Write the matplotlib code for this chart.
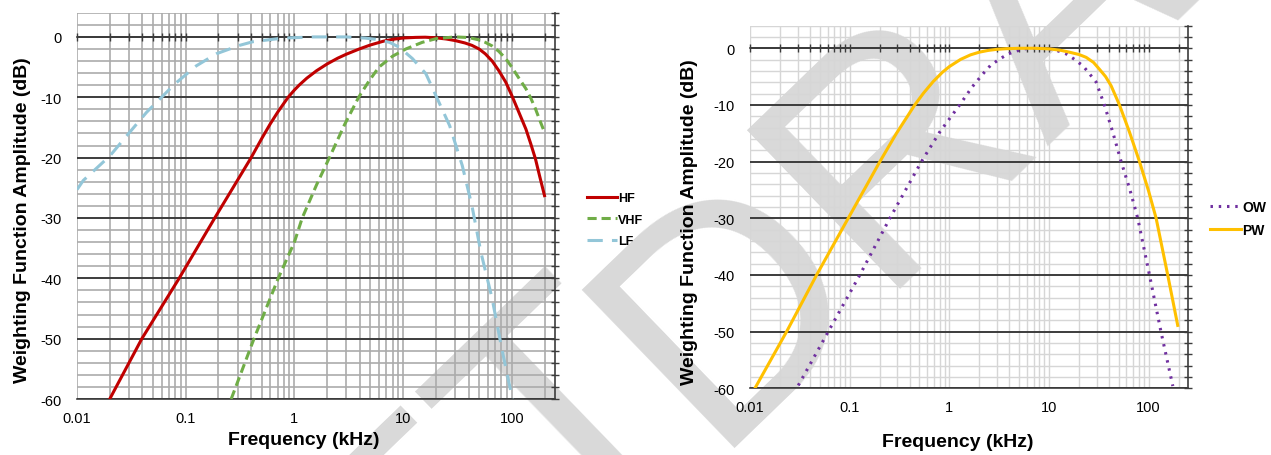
import matplotlib
matplotlib.use("Agg")
import matplotlib.pyplot as plt
from matplotlib.ticker import LogLocator, MultipleLocator, FuncFormatter, NullFormatter

plt.rcParams["font.family"] = ["Liberation Sans", "DejaVu Sans"]
plt.rcParams["axes.unicode_minus"] = False

# ---- data (frequency in kHz, amplitude in dB) ----
freq_hf = [0.0200, 0.0395, 0.087, 0.185, 0.4, 0.5, 0.6, 0.7, 0.8, 0.88, 1.0,
           1.11, 1.3, 1.6, 2.0, 2.5, 3.0, 3.95, 5.0, 6.5, 8.0, 10, 13, 16,
           20, 25, 30, 37, 43, 50, 57, 66, 76, 88, 100, 115, 135, 150, 165, 180, 200]
amp_hf = [-60, -50, -40, -30, -20, -16.85, -14.4, -12.5, -11.0, -9.95, -8.8,
          -7.96, -6.84, -5.6, -4.48, -3.53, -2.87, -2.0, -1.34, -0.74, -0.4, -0.18, -0.08, -0.05,
          -0.15, -0.35, -0.6, -1.0, -1.4, -2.0, -2.8, -4.0, -5.6, -7.5, -9.7, -12.3, -15.3,
          -17.8, -20.2, -23.0, -26.3]

freq_vhf = [0.262, 0.425, 0.71, 1.0, 1.18, 1.6, 2.1, 2.9, 3.9, 4.9, 6.0, 8.0,
            10.6, 15, 20, 30, 40, 50, 57, 66, 76, 88, 100, 115, 135, 150, 165, 180, 200]
amp_vhf = [-60, -50, -40, -34, -30, -24.5, -20, -14.5, -10, -7.2, -5, -3.2,
           -2.0, -0.9, -0.3, 0, -0.1, -0.5, -0.9, -1.5, -2.4, -3.6, -5.0, -6.7, -8.6,
           -10.2, -11.9, -13.7, -15.8]

freq_lf = [0.01, 0.0114, 0.0201, 0.0286, 0.0436, 0.0577, 0.0793, 0.125, 0.191,
           0.313, 0.414, 0.78, 1.5, 3.0, 4.5, 5.6, 7.5, 9.2, 12.2, 16.2, 20, 26.8, 35, 43,
           52, 66, 81, 100, 104]
amp_lf = [-25.3, -23.8, -19.7, -16.4, -12.5, -10.3, -7.8, -4.8, -2.8,
          -1.4, -0.8, -0.2, 0, 0, -0.2, -0.4, -0.9, -1.7, -3.6, -6.1, -9.7, -14.7, -21.3, -28,
          -35.7, -43.4, -51.7, -59.5, -61]

freq_ow = [0.0305, 0.061, 0.1265, 0.253, 0.525, 0.80, 1.27, 1.7, 2.18, 2.6, 3.2,
           3.9, 4.7, 5.5, 6.4, 8.0, 10.1, 12, 14.9, 17.5, 21.9, 25, 29.8, 36, 44, 53,
           65, 77.8, 102, 133, 175]
amp_ow = [-59.5, -50, -40, -30, -20, -14.8, -10, -6.8, -4.5, -3.0, -1.9,
          -1.0, -0.5, -0.15, 0, 0, -0.1, -0.4, -1.0, -1.8, -3.1, -4.3, -6.0, -10, -15, -20,
          -25, -30, -40, -50, -59.6]

freq_pw = [0.0112, 0.0233, 0.0466, 0.0967, 0.201, 0.295, 0.45, 0.55, 0.687, 0.85,
           1.0, 1.3, 1.63, 2.0, 2.46, 3.0, 3.7, 5, 7, 10, 13, 16.1, 20, 23.6, 28,
           32.1, 37, 42, 51, 64.3, 81, 100, 119, 155.5, 196]
amp_pw = [-60, -50, -40, -30, -20, -15.0, -10, -7.93, -5.9, -4.26,
          -3.24, -1.96, -1.17, -0.69, -0.38, -0.19, -0.08, -0.01, 0, -0.1, -0.35, -0.7, -1.1,
          -1.6, -2.5, -3.7, -5.0, -6.6, -10, -14.8, -20, -25.2, -30, -40, -48.9]

left_series = [("HF", freq_hf, amp_hf, "#C00000", "-"),
               ("VHF", freq_vhf, amp_vhf, "#70AD47", (0, (3, 1.6))),
               ("LF", freq_lf, amp_lf, "#93C6D8", (0, (5, 3)))]
right_series = [("OW", freq_ow, amp_ow, "#7030A0", (0, (0.8, 1.9))),
                ("PW", freq_pw, amp_pw, "#FFC000", "-")]


def style_axes(ax, grid_color, grid_lw):
    ax.set_facecolor("none")
    ax.set_xscale("log")
    ax.set_xlim(0.01, 250)
    ax.set_ylim(-60, 4)
    ax.xaxis.set_major_locator(LogLocator(base=10, numticks=10))
    ax.xaxis.set_minor_locator(LogLocator(base=10, subs=range(2, 10), numticks=10))
    ax.xaxis.set_major_formatter(FuncFormatter(lambda v, p: f"{v:g}"))
    ax.xaxis.set_minor_formatter(NullFormatter())
    ax.yaxis.set_major_locator(MultipleLocator(10))
    ax.yaxis.set_minor_locator(MultipleLocator(2))

    ax.set_axisbelow(True)
    ax.grid(True, which="both", axis="x", color=grid_color, lw=grid_lw)
    ax.grid(True, which="minor", axis="y", color=grid_color, lw=grid_lw)
    ax.grid(True, which="major", axis="y", color="#3c3c3c", lw=1.4)

    # horizontal axis crosses at 0 dB, vertical axis sits on the right
    ax.spines["left"].set_visible(False)
    ax.spines["top"].set_position(("data", 0))
    for s in ("top", "right", "bottom"):
        ax.spines[s].set_color("#3c3c3c")
        ax.spines[s].set_linewidth(1.2)
    ax.tick_params(axis="x", which="both", bottom=False, top=True,
                   labelbottom=True, labeltop=False, direction="inout",
                   length=5.5, width=1, color="#3c3c3c", labelsize=10.5, pad=6)
    ax.tick_params(axis="y", which="both", left=False, right=True,
                   labelleft=True, labelright=False, direction="inout",
                   length=5.5, width=1, color="#3c3c3c", labelsize=10.5, pad=8)

    ax.set_xlabel("Frequency (kHz)", fontsize=14, fontweight="bold")
    ax.set_ylabel("Weighting Function Amplitude (dB)", fontsize=14, fontweight="bold")
    ax.xaxis.label.set_va("center")
    ax.yaxis.label.set_va("center")


fig = plt.figure(figsize=(12.71, 4.56), dpi=100)
fig.patch.set_facecolor("white")

ax1 = fig.add_axes([0.0606, 0.1228, 0.3761, 0.847])
ax2 = fig.add_axes([0.5901, 0.1463, 0.3448, 0.7954])

style_axes(ax1, "#ababab", 1.2)
style_axes(ax2, "#d6d6d6", 1.0)

for name, f, a, c, ls in left_series:
    ax1.plot(f, a, color=c, lw=2.2, linestyle=ls, label=name, zorder=3)
for name, f, a, c, ls in right_series:
    ax2.plot(f, a, color=c, lw=2.2, linestyle=ls, label=name, zorder=3)

ax1.xaxis.set_label_coords(0.475, -0.104)
ax1.yaxis.set_label_coords(-0.115, 0.466)
ax2.xaxis.set_label_coords(0.475, -0.148)
ax2.yaxis.set_label_coords(-0.137, 0.461)

fig.legend(handles=ax1.get_lines(), loc="center left",
           bbox_to_anchor=(0.4618, 0.516), frameon=False, borderpad=0,
           borderaxespad=0, handlelength=2.4, handletextpad=0.1,
           labelspacing=0.75, prop={"weight": "bold", "size": 9})
fig.legend(handles=ax2.get_lines(), loc="center left",
           bbox_to_anchor=(0.952, 0.519), frameon=False, borderpad=0,
           borderaxespad=0, handlelength=2.2, handletextpad=0.1,
           labelspacing=0.6, prop={"weight": "bold", "size": 10})

# "DRAFT" watermark of the source document
wm = dict(fontsize=230, color="#d9d9d9", rotation=44, rotation_mode="anchor",
          zorder=-1, va="baseline")
fig.text(0.5476, 0.1228, "DRAFT", ha="right", **wm)
fig.text(0.557, 0.0175, "DRAFT", ha="left", **wm)

fig.savefig("out.png", dpi=100, facecolor="white")
